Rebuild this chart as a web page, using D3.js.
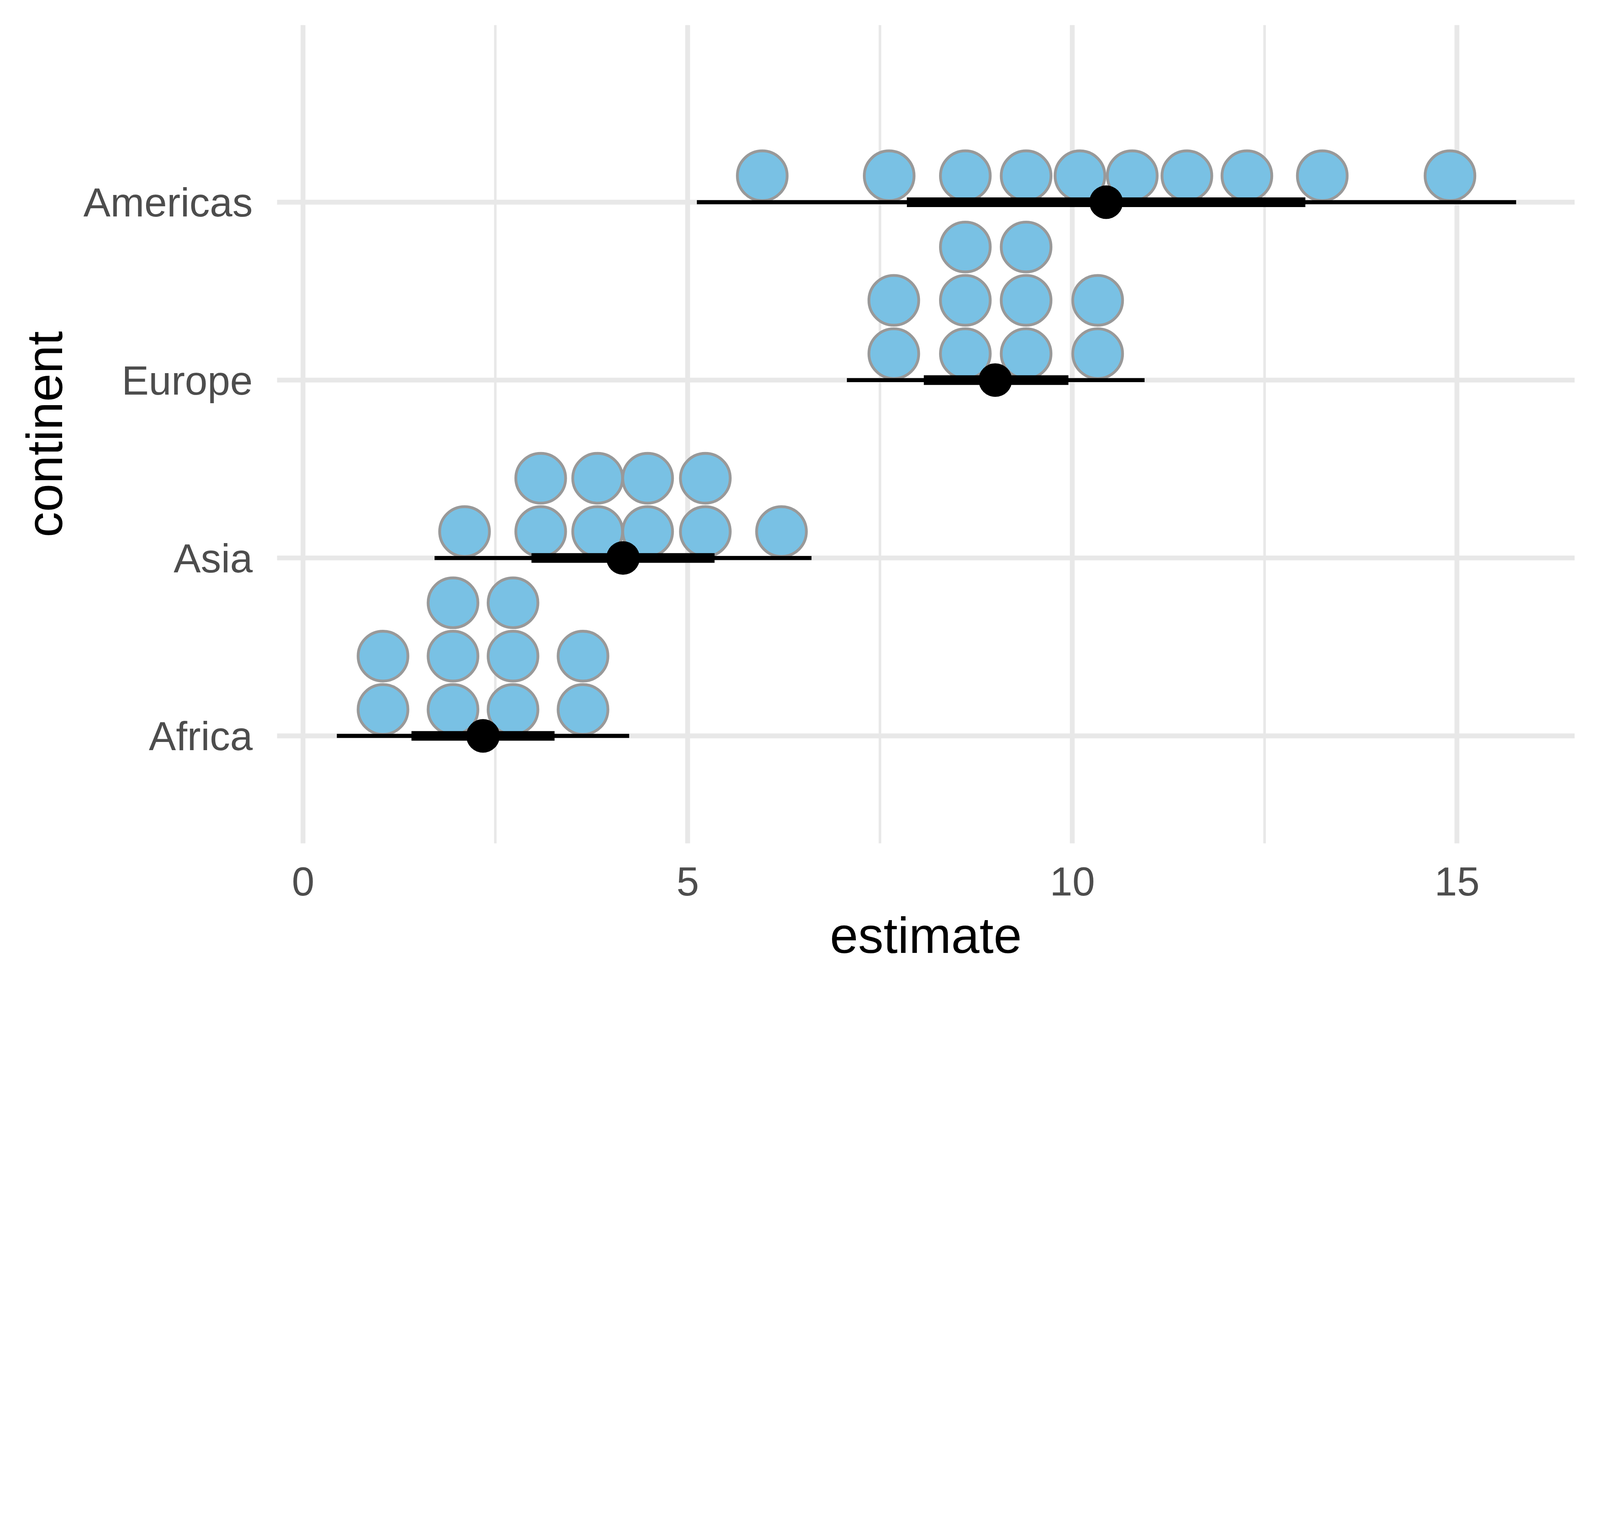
<!DOCTYPE html>
<html>
<head>
<meta charset="utf-8">
<title>estimate by continent</title>
<script src="https://cdn.jsdelivr.net/npm/d3@7"></script>
<style>
  html, body { margin: 0; padding: 0; background: #fff; overflow: hidden; }
  svg { display: block; width: 100vw; height: auto; }
  text { font-family: "Liberation Sans", Arial, sans-serif; }
</style>
</head>
<body>
<div id="chart"></div>
<script>
// categories, bottom to top
var continents = ["Africa", "Asia", "Europe", "Americas"];

// dot values (repeats are stacked)
var dotsAfrica   = [1.04, 1.04, 1.95, 1.95, 1.95, 2.73, 2.73, 2.73, 3.64, 3.64];
var dotsAsia     = [2.10, 3.09, 3.09, 3.83, 3.83, 4.48, 4.48, 5.23, 5.23, 6.22];
var dotsEurope   = [7.68, 7.68, 8.61, 8.61, 8.61, 9.40, 9.40, 9.40, 10.33, 10.33];
var dotsAmericas = [5.97, 7.62, 8.61, 9.40, 10.10, 10.78, 11.49, 12.27, 13.25, 14.91];

// point estimate and intervals, same order as continents
var pointEst   = [2.34, 4.16, 9.00, 10.44];
var innerLower = [1.41, 2.97, 8.07, 7.85];
var innerUpper = [3.27, 5.35, 9.95, 13.03];
var outerLower = [0.44, 1.71, 7.07, 5.12];
var outerUpper = [4.24, 6.61, 10.94, 15.77];

var xMajor = [0, 5, 10, 15];
var xMinor = [2.5, 7.5, 12.5];

var W = 6300, H = 3893;
var panel = {left: 1091, right: 6200, top: 99, bottom: 3320};

var svg = d3.select("#chart").append("svg")
  .attr("viewBox", "0 0 " + W + " " + H)
  .attr("preserveAspectRatio", "xMinYMin meet");

var x = d3.scaleLinear().domain([-0.337, 16.53]).range([panel.left, panel.right]);
var y = d3.scalePoint().domain(continents).range([2897, 796]);

/* grid */
var grid = svg.append("g").attr("stroke", "#e8e8e8").attr("fill", "none");
grid.selectAll(".minor").data(xMinor).enter().append("line")
  .attr("x1", x).attr("x2", x)
  .attr("y1", panel.top).attr("y2", panel.bottom)
  .attr("stroke-width", 10);
grid.selectAll(".major").data(xMajor).enter().append("line")
  .attr("x1", x).attr("x2", x)
  .attr("y1", panel.top).attr("y2", panel.bottom)
  .attr("stroke-width", 19);
grid.selectAll(".ymajor").data(continents).enter().append("line")
  .attr("x1", panel.left).attr("x2", panel.right)
  .attr("y1", y).attr("y2", y)
  .attr("stroke-width", 19);

/* dots, stacked upward from the category line */
var dotSets = {Africa: dotsAfrica, Asia: dotsAsia, Europe: dotsEurope, Americas: dotsAmericas};
var dotR = 98, rowStep = 210, baseOff = 104;
var dots = [];
continents.forEach(function(c){
  var seen = {};
  dotSets[c].forEach(function(v){
    var k = v.toFixed(2);
    seen[k] = (seen[k] || 0);
    dots.push({c: c, v: v, i: seen[k]});
    seen[k]++;
  });
});
svg.append("g").selectAll("circle").data(dots).enter().append("circle")
  .attr("cx", function(d){ return x(d.v); })
  .attr("cy", function(d){ return y(d.c) - baseOff - d.i * rowStep; })
  .attr("r", dotR)
  .attr("fill", "#79c1e4")
  .attr("stroke", "#999999")
  .attr("stroke-width", 11);

/* intervals */
var iv = svg.append("g");
continents.forEach(function(c, i){
  iv.append("line")
    .attr("x1", x(outerLower[i])).attr("x2", x(outerUpper[i]))
    .attr("y1", y(c)).attr("y2", y(c))
    .attr("stroke", "#000").attr("stroke-width", 16);
  iv.append("line")
    .attr("x1", x(innerLower[i])).attr("x2", x(innerUpper[i]))
    .attr("y1", y(c)).attr("y2", y(c))
    .attr("stroke", "#000").attr("stroke-width", 38);
  iv.append("circle")
    .attr("cx", x(pointEst[i])).attr("cy", y(c))
    .attr("r", 66).attr("fill", "#000");
});

/* axes */
var xAxis = svg.append("g")
  .attr("transform", "translate(0," + panel.bottom + ")")
  .call(d3.axisBottom(x).tickValues(xMajor).tickSize(0).tickPadding(91));
xAxis.select(".domain").remove();
xAxis.selectAll("text").attr("font-size", 160).attr("fill", "#4d4d4d")
  .attr("font-family", "Liberation Sans, Arial, sans-serif");

var yAxis = svg.append("g")
  .attr("transform", "translate(" + panel.left + ",0)")
  .call(d3.axisLeft(y).tickSize(0).tickPadding(96));
yAxis.select(".domain").remove();
yAxis.selectAll("text").attr("font-size", 160).attr("fill", "#4d4d4d")
  .attr("dy", "0.35em")
  .attr("font-family", "Liberation Sans, Arial, sans-serif");

/* titles */
svg.append("text")
  .attr("x", (panel.left + panel.right) / 2).attr("y", 3752)
  .attr("text-anchor", "middle").attr("font-size", 200).attr("fill", "#000")
  .text("estimate");
svg.append("text")
  .attr("transform", "translate(245," + (panel.top + panel.bottom) / 2 + ") rotate(-90)")
  .attr("text-anchor", "middle").attr("font-size", 200).attr("fill", "#000")
  .text("continent");
</script>
</body>
</html>
